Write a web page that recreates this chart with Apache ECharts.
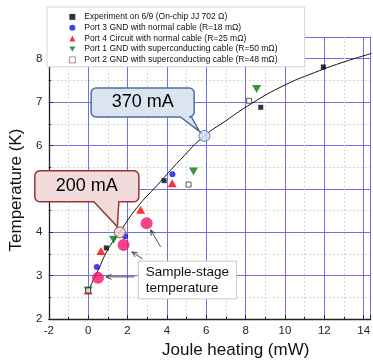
<!DOCTYPE html>
<html><head><meta charset="utf-8">
<script src="https://cdn.jsdelivr.net/npm/echarts@6/dist/echarts.min.js"></script>
<style>html,body{margin:0;padding:0;background:#fff}#c{width:373px;height:364px}</style>
</head><body><div id="c"></div>
<script>
// ---- data ----
const seriesNames = [
  'Experiment on 6/9 (On-chip JJ 702 \u03A9)',
  'Port 3 GND with normal cable (R=18 m\u03A9)',
  'Port 4 Circuit with normal cable (R=25 m\u03A9)',
  'Port 1 GND with superconducting cable (R=50 m\u03A9)',
  'Port 2 GND with superconducting cable (R=48 m\u03A9)'
];
const experiment = [[0,2.66],[0.92,3.64],[3.86,5.19],[8.77,6.88],[11.95,7.81]];
const port3 = [[0,2.66],[0.44,3.2],[1.88,3.91],[4.28,5.34]];
const port4 = [[0,2.66],[0.65,3.57],[2.67,4.52],[4.27,5.13]];
const port1 = [[0,2.66],[1.29,3.83],[5.35,5.4],[8.56,7.3]];
const port2 = [[0,2.66],[5.1,5.1],[8.18,7.03]];
const sampleStage = [[0.5,2.95],[1.8,3.71],[2.97,4.21]];
const fitCurve = [[-0.05,2.6],[0.5,3.12],[1.0,3.6],[1.6,4.0],[2.5,4.58],[3.5,5.08],[4.7,5.68],[5.9,6.22],[7.0,6.57],[8.1,6.91],[9.8,7.35],[11.5,7.68],[13.1,7.94],[14.4,8.12]];
const currentPoints = [[1.61,4.0],[5.91,6.22]];
const currentLabels = ['200 mA','370 mA'];
const sampleLabel = 'Sample-stage\ntemperature';
const xName = 'Joule heating (mW)';
const yName = 'Temperature (K)';

const FONT = 'Liberation Sans, Arial, sans-serif';
const chart = echarts.init(document.getElementById('c'), null, {renderer:'canvas'});
const invTri = 'path://M0,0L10,0L5,9Z';

const axisCommon = {
  axisLine:{show:true, onZero:false, lineStyle:{color:'#222', width:1.3}},
  axisTick:{show:true, inside:true, length:4, lineStyle:{color:'#222'}},
  minorTick:{show:true, splitNumber:2, length:2.5, lineStyle:{color:'#222'}},
  splitLine:{show:true, lineStyle:{color:'#6f6fe8', width:1}},
  minorSplitLine:{show:true, lineStyle:{color:'#cddccd', type:[2,2], width:1}},
};

chart.setOption({
  animation:false,
  textStyle:{fontFamily:FONT},
  grid:{left:45.5, right:0.5, top:37, bottom:43, containLabel:false},
  xAxis:Object.assign({}, axisCommon, {
    type:'value', min:-2, max:14.35, interval:2,
    axisLabel:{fontSize:11.5, color:'#222', margin:6, showMaxLabel:false, fontFamily:FONT},
    name:xName, nameLocation:'middle', nameGap:19.5,
    nameTextStyle:{fontSize:17, color:'#111', fontFamily:FONT, padding:[0,0,0,52]}
  }),
  yAxis:Object.assign({}, axisCommon, {
    type:'value', min:2, max:8.5, interval:1,
    axisLabel:{fontSize:11.5, color:'#222', margin:6.5, showMaxLabel:false, fontFamily:FONT},
    name:yName, nameLocation:'middle', nameGap:22,
    nameTextStyle:{fontSize:17, color:'#111', fontFamily:FONT, padding:[0,24,0,0]}
  }),
  legend:{
    left:47, top:7, orient:'vertical', selectedMode:false,
    itemWidth:6, itemHeight:6, itemGap:0,
    padding:[4.5,27,1.5,22],
    backgroundColor:'#fff', borderColor:'#d6d6d6', borderWidth:1,
    textStyle:{fontSize:8.5, color:'#111', lineHeight:10.75, fontFamily:FONT, padding:[0,0,0,4]},
    data:[
      {name:seriesNames[0], icon:'rect'},
      {name:seriesNames[1], icon:'circle'},
      {name:seriesNames[2], icon:'triangle'},
      {name:seriesNames[3], icon:invTri},
      {name:seriesNames[4], icon:'rect', itemStyle:{color:'#fff', borderColor:'#444', borderWidth:0.7}}
    ]
  },
  series:[
    {type:'line', data:fitCurve, smooth:true, showSymbol:false, symbol:'none', clip:false,
     lineStyle:{color:'#111', width:1}, z:2, silent:true},
    {name:seriesNames[0], type:'scatter', data:experiment, symbol:'rect', symbolSize:5,
     itemStyle:{color:'#000'}, z:3},
    {name:seriesNames[1], type:'scatter', data:port3, symbol:'circle', symbolSize:6,
     itemStyle:{color:'#1010f0'}, z:3},
    {name:seriesNames[2], type:'scatter', data:port4, symbol:'triangle', symbolSize:[9,8],
     itemStyle:{color:'#ff0000'}, z:3},
    {name:seriesNames[3], type:'scatter', data:port1, symbol:invTri, symbolSize:[9,8],
     itemStyle:{color:'#0a780a'}, z:3},
    {name:seriesNames[4], type:'scatter', data:port2, symbol:'rect', symbolSize:5,
     itemStyle:{color:'#fff', borderColor:'#333', borderWidth:1}, z:3},
    {type:'scatter', data:sampleStage, symbol:'circle', symbolSize:12,
     itemStyle:{color:'#f5126e'}, z:4},
    {type:'scatter', data:[
       {value:currentPoints[0], itemStyle:{color:'#f2dcdb', borderColor:'#9b4a48', borderWidth:1.2}},
       {value:currentPoints[1], itemStyle:{color:'#d3e0f1', borderColor:'#5b7fae', borderWidth:1.2}}
     ], symbol:'circle', symbolSize:11, z:6}
  ]
});

function px(p){ return chart.convertToPixel({gridIndex:0}, p); }

function calloutPolygon(bx, by, w, h, r, baseL, baseR, tip){
  const pts = [];
  function arc(cx, cy, a0, a1){
    for(let i=0;i<=6;i++){ const a=a0+(a1-a0)*i/6; pts.push([cx+r*Math.cos(a), cy+r*Math.sin(a)]); }
  }
  arc(bx+r, by+r, Math.PI, 1.5*Math.PI);
  arc(bx+w-r, by+r, 1.5*Math.PI, 2*Math.PI);
  arc(bx+w-r, by+h-r, 0, 0.5*Math.PI);
  pts.push([baseR, by+h]); pts.push(tip); pts.push([baseL, by+h]);
  arc(bx+r, by+h-r, 0.5*Math.PI, Math.PI);
  return pts;
}

function arrow(x1,y1,x2,y2){
  const a = Math.atan2(y2-y1, x2-x1), L=6, s=0.42;
  return [
    {type:'line', z:100, shape:{x1:x1,y1:y1,x2:x2,y2:y2}, style:{stroke:'#333', lineWidth:0.9}},
    {type:'polyline', z:100, shape:{points:[
      [x2-L*Math.cos(a-s), y2-L*Math.sin(a-s)], [x2,y2], [x2-L*Math.cos(a+s), y2-L*Math.sin(a+s)]
    ]}, style:{stroke:'#333', lineWidth:0.9, fill:null}}
  ];
}

function draw(){
  const els = [];
  const c0 = px(currentPoints[0]);
  {
    const bx=c0[0]-85, by=c0[1]-61.5, w=104, h=31;
    els.push({type:'polygon', z:100, shape:{points:calloutPolygon(bx,by,w,h,5,c0[0]-26,c0[0]-1,[c0[0]-2.5,c0[1]-5.5])},
      style:{fill:'#f2dcdb', stroke:'#953735', lineWidth:1.5}});
    els.push({type:'text', z:101, x:bx+w/2, y:by+h/2, style:{text:currentLabels[0], font:'18px '+FONT, fill:'#000', align:'center', verticalAlign:'middle'}});
  }
  const c1 = px(currentPoints[1]);
  {
    const bx=c1[0]-113.3, by=c1[1]-48, w=103, h=29;
    els.push({type:'polygon', z:100, shape:{points:calloutPolygon(bx,by,w,h,5,c1[0]-24,c1[0]-13,[c1[0]-5,c1[1]-4.5])},
      style:{fill:'#dbe5f1', stroke:'#4f6f98', lineWidth:1.5}});
    els.push({type:'text', z:101, x:bx+w/2, y:by+h/2, style:{text:currentLabels[1], font:'18px '+FONT, fill:'#000', align:'center', verticalAlign:'middle'}});
  }
  const s = sampleStage.map(px);
  const bxy = [s[2][0]-8.3, s[2][1]+38];
  els.push({type:'rect', z:100, shape:{x:bxy[0], y:bxy[1], width:98.3, height:37.7},
    style:{fill:'#fff', stroke:'#c8c8c8', lineWidth:1}});
  els.push({type:'text', z:101, x:bxy[0]+7.5, y:bxy[1]+19, style:{text:sampleLabel, font:'13.5px '+FONT, fill:'#111', align:'left', verticalAlign:'middle', lineHeight:16.6}});
  els.push(...arrow(bxy[0]-3.7, bxy[1]+15.7, s[0][0]+8, s[0][1]-1));
  els.push(...arrow(bxy[0]+4.3, bxy[1]-2.3, s[1][0]+8.3, s[1][1]+7));
  els.push(...arrow(bxy[0]+22.3, bxy[1]-14.3, s[2][0]+4, s[2][1]+6.7));
  chart.setOption({graphic:{elements:els}});
}
draw();
</script>
</body></html>
